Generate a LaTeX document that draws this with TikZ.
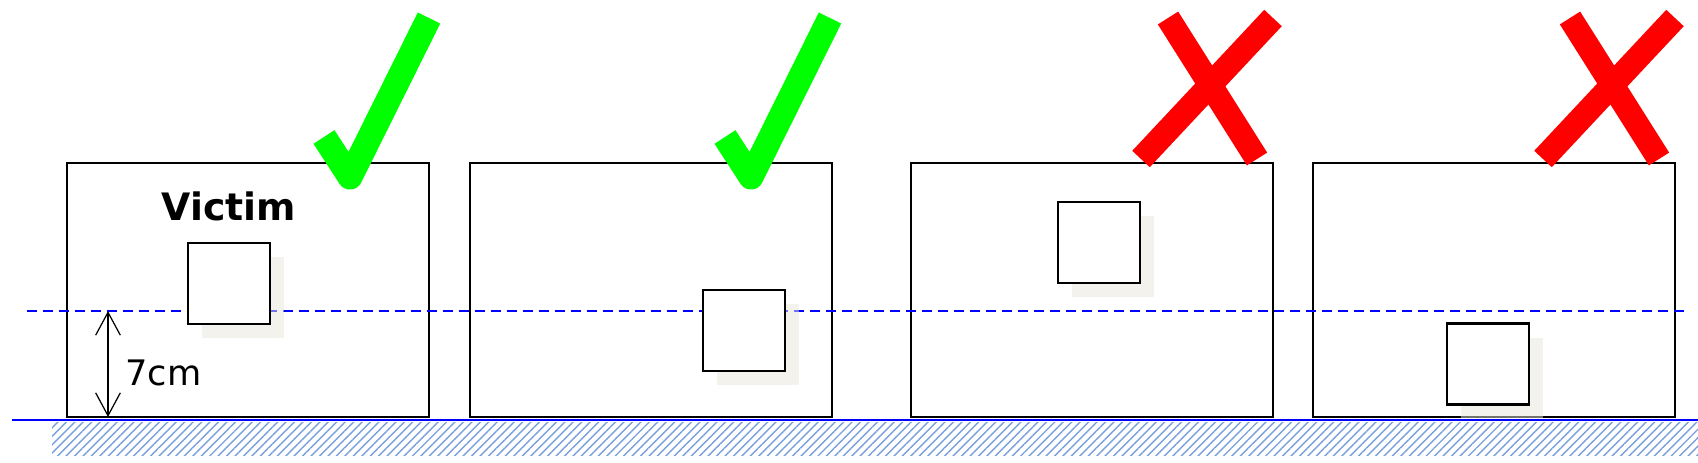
\documentclass[tikz,border=0pt]{standalone}
\usepackage{fontspec}
\usetikzlibrary{arrows.meta,patterns.meta,shadows}
\newfontfamily\labelfont{DejaVu Sans}

\definecolor{okgreen}{RGB}{0,255,0}
\definecolor{nored}{RGB}{255,0,0}
\definecolor{shadowcol}{RGB}{231,229,219}
\definecolor{hatchblue}{RGB}{120,160,220}

\tikzset{
  victimbox/.style={draw=black, line width=1.4pt, minimum width=7.24cm, minimum height=5.08cm, inner sep=0pt},
  target/.style={draw=black, fill=white, line width=1.3pt, minimum width=1.64cm, minimum height=1.62cm, inner sep=0pt,
    drop shadow={shadow xshift=0.28cm, shadow yshift=-0.28cm, fill=shadowcol, opacity=0.5}},
  okmark/.style={draw=okgreen, line width=0.5cm, line join=round},
  nomark/.style={draw=nored, line width=0.48cm},
}

\begin{document}
\begin{tikzpicture}[x=0.02cm, y=-0.02cm]
\useasboundingbox (0,0) rectangle (1698,463);

% ground
\fill[pattern={Lines[angle=45, distance=3.4pt, line width=0.8pt]}, pattern color=hatchblue] (52,422) rectangle (1698,455);
\draw[blue, line width=1.4pt] (12,420) -- (1698,420);

% the four boxes
\node[victimbox] (box1) at (248,290) {};
\node[victimbox] (box2) at (651,290) {};
\node[victimbox] (box3) at (1092,290) {};
\node[victimbox] (box4) at (1494,290) {};

\node[anchor=base, inner sep=0pt] (victim) at (229,220) {\labelfont\bfseries\fontsize{21.5}{25}\selectfont Victim};

% 7cm level
\draw[blue, line width=1.1pt, dash pattern=on 5.7pt off 3.4pt] (27,311) -- (1688,311);

\coordinate (dimtop) at (108,311);
\coordinate (dimbot) at (108,417);
\draw[{Straight Barb[length=13pt,width=14pt]}-{Straight Barb[length=13pt,width=14pt]}, line width=0.7pt] (dimtop) -- (dimbot);
\node[anchor=base west, inner sep=0pt] (dimlabel) at (125,385) {\labelfont\fontsize{20}{24}\selectfont 7cm};

% squares
\node[target] (sq1) at (229,283.5) {};
\node[target] (sq2) at (744,330.5) {};
\node[target] (sq3) at (1099,242.5) {};
\node[target] (sq4) at (1488,364) {};

% marks
\draw[okmark] (324,137) -- (350,177) -- (429,18);
\draw[okmark] (725,137) -- (751,177) -- (830,18);
\draw[nomark] (1168,18) -- (1257,159) (1273,18) -- (1141,159);
\draw[nomark] (1570,18) -- (1659,159) (1675,18) -- (1543,159);

\end{tikzpicture}
\end{document}
